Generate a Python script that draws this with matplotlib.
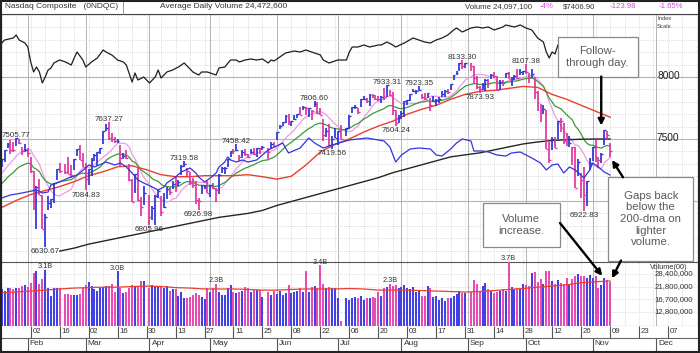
import numpy as np
import pandas as pd
import matplotlib
matplotlib.use("Agg")
import matplotlib.pyplot as plt
from matplotlib.patches import Rectangle
import matplotlib.transforms as mtransforms
from matplotlib.ticker import NullLocator

plt.rcParams['font.family'] = ['Liberation Sans', 'DejaVu Sans']

# ---------------------------------------------------------------- data
holidays = ['2018-02-19', '2018-03-30', '2018-05-28', '2018-07-04', '2018-09-03']

# closes before the first bar (used by the moving averages)
prior_close = [6963.85, 6960.96, 6965.36, 6959.96, 6936.25, 6939.34, 6950.16, 6903.39,
               7006.90, 7065.53, 7077.91, 7136.56, 7157.39, 7163.58, 7153.57, 7211.78,
               7261.06, 7223.69, 7298.28, 7296.05]

close = [
    7336.38,
    7408.03, 7460.29, 7415.06, 7411.16, 7505.77,
    7466.51, 7402.48, 7411.48, 7385.86, 7240.95,
    6967.53, 7115.88, 7051.98, 6777.16, 6874.49,
    6981.96, 7013.51, 7143.62, 7256.43, 7239.47,
    7234.31, 7218.23, 7210.09, 7337.39,
    7421.46, 7330.35, 7273.01, 7180.56, 7257.87,
    7330.70, 7372.01, 7396.65, 7427.95, 7560.81,
    7588.32, 7511.01, 7496.81, 7481.74, 7481.99,
    7344.24, 7364.30, 7345.29, 7166.68, 6992.67,
    7220.54, 7008.81, 6949.23, 7063.45,
    6870.12, 6941.28, 7042.11, 7076.55, 6915.11,
    6950.34, 7094.30, 7069.03, 7140.25, 7106.65,
    7156.28, 7281.10, 7295.24, 7238.06, 7146.13,
    7128.60, 7007.35, 7003.74, 7118.68, 7119.80,
    7066.27, 7130.70, 7100.90, 7088.15, 7209.62,
    7265.21, 7266.90, 7339.91, 7404.98, 7402.88,
    7411.32, 7351.63, 7398.30, 7382.47, 7354.34,
    7394.04, 7378.46, 7425.96, 7424.43, 7433.85,
    7396.59, 7462.45, 7442.12, 7554.33,
    7606.46, 7637.86, 7689.24, 7635.07, 7645.51,
    7659.93, 7703.79, 7695.70, 7761.04, 7746.38,
    7747.02, 7725.59, 7781.51, 7712.95, 7692.82,
    7532.01, 7561.63, 7445.08, 7503.68, 7510.30,
    7567.69, 7502.67, 7586.43, 7688.39,
    7756.20, 7759.20, 7716.61, 7823.92, 7825.98,
    7805.72, 7855.12, 7854.44, 7825.30, 7820.20,
    7841.87, 7840.78, 7932.24, 7852.18, 7737.42,
    7630.00, 7671.79, 7707.29, 7802.69, 7812.01,
    7859.68, 7883.66, 7888.33, 7891.78, 7839.11,
    7819.71, 7870.89, 7774.12, 7806.52, 7816.33,
    7821.01, 7859.17, 7889.10, 7878.46, 7945.98,
    8017.90, 8030.04, 8109.54, 8088.36, 8109.69,
    8091.25, 7995.17, 7922.73, 7902.54,
    7924.16, 7972.47, 7954.23, 8013.71, 8010.04,
    7895.79, 7956.11, 7950.04, 8028.23, 7986.96,
    7993.25, 8007.47, 7990.37, 8041.97, 8046.35,
    8037.30, 7999.55, 8025.09, 7879.51, 7788.45,
    7735.95, 7738.02, 7422.05, 7329.06, 7496.89,
    7430.74, 7645.49, 7642.70, 7485.14, 7449.03,
    7468.63, 7437.54, 7108.40, 7318.34, 7167.21,
    7050.29, 7161.65, 7305.90, 7434.06, 7356.99,
    7328.85, 7375.96, 7570.75, 7530.88, 7406.90,
]

high = [
    7338,
    7409, 7467, 7490, 7472, 7505.77,
    7500, 7432, 7459, 7430, 7353,
    7244, 7120, 7175, 7051, 6897,
    7040, 7017, 7149, 7257, 7305,
    7300, 7353, 7292, 7338,
    7422, 7451, 7386, 7306, 7262,
    7350, 7377, 7397, 7428, 7561,
    7620, 7637.27, 7550, 7520, 7503,
    7448, 7385, 7412, 7300, 7181,
    7221, 7265, 7032, 7122,
    7047, 6963, 7048, 7100, 7038,
    7068, 7112, 7111, 7158, 7191,
    7166, 7290, 7319.58, 7265, 7236,
    7183, 7162, 7027, 7126, 7132,
    7162, 7131, 7148, 7106, 7216,
    7276, 7272, 7340, 7405, 7418,
    7458.42, 7374, 7409, 7417, 7380,
    7423, 7426, 7427, 7431, 7447,
    7429, 7475, 7478, 7558,
    7613, 7640, 7690, 7704, 7646,
    7690, 7704, 7754, 7768, 7755,
    7752, 7730, 7806.60, 7796, 7751,
    7662, 7591, 7621, 7521, 7587,
    7568, 7611, 7589, 7696,
    7757, 7771, 7750, 7826, 7844,
    7831, 7863, 7866, 7855, 7843,
    7843, 7908, 7933.31, 7897, 7881,
    7736, 7691, 7727, 7809, 7813,
    7860, 7905, 7894, 7923.35, 7865,
    7870, 7873, 7827, 7846, 7825,
    7835, 7890, 7893, 7901, 7947,
    8019, 8050, 8110, 8133.30, 8114,
    8110, 8087, 8004, 7931,
    7950, 7980, 7981, 8024, 8037,
    8006, 7972, 7973, 8033, 8043,
    8001, 8016, 8061, 8061, 8049,
    8107.38, 8035, 8064, 8003, 7886,
    7783, 7771, 7737, 7479, 7520,
    7519, 7646, 7667, 7631, 7545,
    7525, 7438, 7434, 7335, 7229,
    7274, 7162, 7345, 7436, 7491,
    7354, 7385, 7572, 7565, 7466,
]

low = [
    7274,
    7311, 7425, 7377, 7392, 7446,
    7457, 7368, 7397, 7352, 7226,
    6924, 6777, 7049, 6776, 6630.67,
    6926, 6941, 6981, 7166, 7225,
    7216, 7216, 7185, 7247,
    7359, 7330, 7272, 7084.83, 7130,
    7202, 7319, 7283, 7378, 7456,
    7563, 7491, 7477, 7465, 7470,
    7278, 7340, 7338, 7165, 6990,
    7064, 6998, 6880, 6970,
    6805.96, 6850, 6810, 7025, 6880,
    6940, 7015, 7050, 7100, 7075,
    7124, 7206, 7278, 7198, 7126,
    7105, 6975, 6926.98, 7057, 7095,
    7066, 7032, 7099, 6992, 7059,
    7223, 7221, 7278, 7358, 7381,
    7403, 7321, 7349, 7364, 7344,
    7381, 7369, 7355, 7377, 7409,
    7339, 7420, 7432, 7494,
    7578, 7604, 7627, 7612, 7604,
    7650, 7669, 7692, 7730, 7693,
    7676, 7654, 7758, 7698, 7690,
    7481, 7516, 7443, 7419.56, 7508,
    7449, 7496, 7523, 7578,
    7706, 7744, 7704, 7761, 7815,
    7792, 7767, 7828, 7815, 7809,
    7787, 7817, 7835, 7846, 7697,
    7604.24, 7626, 7665, 7674, 7771,
    7803, 7875, 7866, 7885, 7819,
    7817, 7827, 7723, 7795, 7767,
    7793, 7840, 7841, 7863, 7899,
    7975, 8020, 8047, 8067, 8070,
    8052, 7946, 7903, 7873.93,
    7895, 7890, 7913, 7985, 7989,
    7885, 7894, 7924, 7990, 7986,
    7926, 7973, 7984, 8013, 8013,
    8022, 7952, 7993, 7819, 7728,
    7637, 7701, 7421, 7303, 7413,
    7429, 7499, 7560, 7460, 7440,
    7435, 7292, 7103, 7200, 7023,
    6922.83, 6962, 7253, 7319, 7311,
    7267, 7303, 7449, 7502, 7355,
]

# daily volume, billions of shares
volume_b = [
    2.05,
    2.00, 2.10, 2.10, 2.05, 2.10,
    2.10, 2.20, 2.25, 2.15, 2.35,
    2.90, 3.05, 2.30, 2.55, 3.10,
    2.10, 1.80, 2.10, 2.10, 2.10,
    1.85, 1.85, 1.82, 1.82,
    1.82, 1.85, 2.10, 2.25, 2.40,
    2.20, 2.05, 2.00, 2.10, 2.15,
    2.20, 2.20, 2.30, 1.95, 3.00,
    2.10, 1.90, 1.95, 2.10, 2.25,
    2.20, 2.20, 2.45, 2.45,
    2.10, 2.25, 2.20, 2.15, 2.15,
    2.10, 2.20, 2.00, 2.05, 2.05,
    1.80, 1.95, 1.70, 1.72, 1.75,
    1.82, 1.90, 1.82, 1.75, 1.68,
    2.10, 1.95, 2.10, 2.30, 1.96,
    1.82, 1.82, 2.10, 2.24, 1.96,
    1.90, 1.96, 2.00, 2.17, 2.10,
    1.96, 2.03, 2.03, 2.03, 1.75,
    1.96, 1.82, 2.00, 1.85,
    2.00, 1.82, 1.90, 2.25, 1.90,
    1.95, 2.00, 2.10, 1.95, 3.00,
    1.96, 2.17, 2.20, 2.10, 3.40,
    2.30, 2.10, 2.17, 2.10, 2.10,
    1.70, 1.05, 1.70, 1.65,
    1.70, 1.75, 1.70, 1.80, 1.65,
    1.70, 1.70, 1.75, 1.70, 1.95,
    1.80, 2.10, 2.15, 2.32, 2.20,
    2.25, 2.10, 2.15, 2.25, 2.10,
    2.05, 2.15, 1.95, 2.00, 1.80,
    1.80, 2.20, 2.10, 1.75, 1.80,
    1.65, 1.72, 1.60, 1.70, 1.70,
    1.80, 1.85, 2.00, 1.90, 1.90,
    1.95, 2.50, 2.30, 2.00,
    2.20, 2.35, 2.05, 2.00, 1.90,
    1.95, 2.00, 2.05, 2.00, 3.70,
    2.15, 2.05, 2.10, 2.05, 2.30,
    2.25, 2.20, 2.90, 2.95, 2.40,
    2.55, 2.30, 3.00, 3.00, 2.45,
    2.30, 2.50, 2.35, 2.30, 2.60,
    2.30, 2.55, 2.75, 2.85, 2.75,
    2.75, 2.60, 2.80, 2.60, 2.70,
    2.10, 2.25, 2.62, 2.50, 2.41,
]

# weekly (Friday) readings of the 50-day line, Jan 19 .. Nov 9
ma50 = [6948, 7004, 7052, 7084, 7116, 7156, 7204, 7236, 7276, 7284, 7252,
        7212, 7196, 7196, 7204, 7204, 7204, 7212, 7196, 7176, 7200, 7290,
        7396, 7456, 7500, 7556, 7604, 7644, 7700, 7740, 7772, 7820, 7860,
        7884, 7892, 7908, 7924, 7916, 7860, 7820, 7772, 7724, 7676]
# weekly (Friday) readings of the 200-day line, Feb 16 .. Nov 9
ma200 = [6596, 6620, 6652, 6676, 6700, 6724, 6748, 6772, 6796, 6820, 6844,
         6868, 6884, 6900, 6924, 6964, 6996, 7028, 7060, 7092, 7124, 7156,
         7188, 7228, 7260, 7292, 7324, 7356, 7372, 7388, 7412, 7436, 7460,
         7476, 7488, 7494, 7498, 7500, 7500]
# weekly (Friday) readings of the 50-day average volume (billions), Jan 19 .. Nov 9
vol_avg_b = [1.90, 1.94, 1.98, 2.02, 2.07, 2.11, 2.13, 2.15, 2.15, 2.18, 2.20,
             2.18, 2.13, 2.11, 2.07, 2.07, 2.07, 2.05, 2.02, 2.02, 2.05, 2.07,
             2.07, 2.07, 2.09, 2.07, 2.02, 2.02, 2.02, 2.00, 1.98, 1.96, 1.94,
             1.96, 2.00, 2.05, 2.09, 2.15, 2.20, 2.26, 2.36, 2.41, 2.45]

# relative strength line (blue, own scale)
rs_dates = ["2018-01-19", "2018-01-24", "2018-01-30", "2018-02-06", "2018-02-08", "2018-02-12",
            "2018-02-13", "2018-02-16", "2018-02-21", "2018-02-26", "2018-03-01", "2018-03-02",
            "2018-03-06", "2018-03-12", "2018-03-15", "2018-03-19", "2018-03-21", "2018-03-23",
            "2018-03-27", "2018-03-29", "2018-04-03", "2018-04-05", "2018-04-09", "2018-04-10",
            "2018-04-13", "2018-04-17", "2018-04-20", "2018-04-24", "2018-04-25", "2018-04-27",
            "2018-05-01", "2018-05-03", "2018-05-04", "2018-05-08", "2018-05-09", "2018-05-10",
            "2018-05-14", "2018-05-16", "2018-05-18", "2018-05-23", "2018-05-29", "2018-06-05",
            "2018-06-07", "2018-06-13", "2018-06-18", "2018-06-20", "2018-06-25", "2018-06-28",
            "2018-07-06", "2018-07-16", "2018-07-24", "2018-07-26", "2018-07-30", "2018-08-01",
            "2018-08-06", "2018-08-09", "2018-08-15", "2018-08-17", "2018-08-21", "2018-08-24",
            "2018-08-28", "2018-08-30", "2018-09-04", "2018-09-05", "2018-09-10", "2018-09-12",
            "2018-09-17", "2018-09-20", "2018-09-24", "2018-09-27", "2018-10-01", "2018-10-03",
            "2018-10-08", "2018-10-10", "2018-10-12", "2018-10-16", "2018-10-18", "2018-10-22",
            "2018-10-24", "2018-10-29", "2018-10-31", "2018-11-01", "2018-11-05", "2018-11-07",
            "2018-11-09"]
rs_values = [864, 870, 874, 880, 874, 876,
             890, 896, 904, 910, 924, 930,
             926, 936, 930, 934, 926, 914,
             900, 894, 886, 880, 886, 894,
             906, 916, 924, 914, 906, 896,
             904, 914, 926, 936, 946, 940,
             936, 940, 936, 940, 960, 974,
             954, 964, 984, 974, 964, 970,
             980, 984, 978, 966, 936, 950,
             962, 964, 962, 950, 948, 962,
             974, 982, 978, 958, 958, 956,
             950, 948, 954, 956, 950, 944,
             934, 920, 930, 932, 914, 926,
             920, 904, 920, 934, 926, 916,
             910]

# market index line at the top (black, "Index Scale")
idx_dates = ["2018-01-19", "2018-01-22", "2018-01-25", "2018-01-26", "2018-01-29", "2018-01-31",
             "2018-02-01", "2018-02-02", "2018-02-05", "2018-02-06", "2018-02-07", "2018-02-08",
             "2018-02-09", "2018-02-12", "2018-02-13", "2018-02-14", "2018-02-16", "2018-02-20",
             "2018-02-22", "2018-02-23", "2018-02-26", "2018-02-28", "2018-03-01", "2018-03-05",
             "2018-03-07", "2018-03-09", "2018-03-12", "2018-03-14", "2018-03-16", "2018-03-20",
             "2018-03-21", "2018-03-23", "2018-03-26", "2018-03-27", "2018-03-29", "2018-04-02",
             "2018-04-04", "2018-04-05", "2018-04-06", "2018-04-10", "2018-04-12", "2018-04-16",
             "2018-04-18", "2018-04-23", "2018-04-25", "2018-04-26", "2018-04-30", "2018-05-03",
             "2018-05-04", "2018-05-08", "2018-05-10", "2018-05-14", "2018-05-15", "2018-05-17",
             "2018-05-21", "2018-05-23", "2018-05-25", "2018-05-29", "2018-05-30", "2018-05-31",
             "2018-06-04", "2018-06-06", "2018-06-11", "2018-06-13", "2018-06-15", "2018-06-19",
             "2018-06-22", "2018-06-25", "2018-06-27", "2018-07-02", "2018-07-05", "2018-07-06",
             "2018-07-09", "2018-07-11", "2018-07-13", "2018-07-17", "2018-07-20", "2018-07-23",
             "2018-07-25", "2018-07-27", "2018-07-30", "2018-08-02", "2018-08-07", "2018-08-09",
             "2018-08-13", "2018-08-15", "2018-08-17", "2018-08-21", "2018-08-23", "2018-08-27",
             "2018-08-28", "2018-08-30", "2018-09-04", "2018-09-06", "2018-09-10", "2018-09-12",
             "2018-09-14", "2018-09-19", "2018-09-20", "2018-09-25", "2018-09-27", "2018-10-01",
             "2018-10-03", "2018-10-04", "2018-10-05", "2018-10-09", "2018-10-10", "2018-10-11",
             "2018-10-12", "2018-10-15", "2018-10-16", "2018-10-18", "2018-10-22", "2018-10-24",
             "2018-10-26", "2018-10-29", "2018-10-31", "2018-11-02", "2018-11-05", "2018-11-07",
             "2018-11-08", "2018-11-09"]
idx_values = [2835, 2850, 2860, 2875, 2850, 2835,
              2815, 2740, 2690, 2715, 2690, 2635,
              2665, 2700, 2710, 2735, 2750, 2740,
              2725, 2760, 2790, 2750, 2715, 2740,
              2760, 2800, 2790, 2775, 2750, 2740,
              2725, 2640, 2685, 2650, 2665, 2635,
              2665, 2700, 2660, 2690, 2700, 2715,
              2735, 2690, 2675, 2690, 2690, 2675,
              2710, 2715, 2750, 2750, 2740, 2750,
              2755, 2750, 2755, 2735, 2750, 2745,
              2765, 2785, 2795, 2790, 2800, 2790,
              2775, 2750, 2735, 2750, 2750, 2790,
              2815, 2815, 2825, 2815, 2825, 2825,
              2840, 2825, 2815, 2835, 2860, 2850,
              2840, 2835, 2850, 2860, 2875, 2900,
              2910, 2890, 2910, 2915, 2910, 2915,
              2900, 2915, 2925, 2915, 2925, 2910,
              2900, 2880, 2860, 2840, 2790, 2760,
              2790, 2780, 2825, 2800, 2790, 2750,
              2760, 2740, 2775, 2790, 2790, 2820,
              2810, 2790]

# labelled highs / lows
hl_dates = ["2018-01-26", "2018-02-09", "2018-03-01", "2018-03-13", "2018-04-02", "2018-04-18",
            "2018-04-25", "2018-05-14", "2018-06-20", "2018-06-28", "2018-07-25", "2018-07-30",
            "2018-08-09", "2018-08-30", "2018-09-07", "2018-10-01", "2018-10-29"]
hl_values = [7505.77, 6630.67, 7084.83, 7637.27, 6805.96, 7319.58,
             6926.98, 7458.42, 7806.60, 7419.56, 7933.31, 7604.24,
             7923.35, 8133.30, 7873.93, 8107.38, 6922.83]
hl_kind = ["hi", "lo", "lo", "hi", "lo", "hi",
           "lo", "hi", "hi", "lo", "hi", "lo",
           "hi", "hi", "lo", "hi", "lo"]

# labelled volume peaks
vpk_dates = ["2018-02-09", "2018-03-16", "2018-05-03", "2018-06-22", "2018-07-26", "2018-09-21"]

price_grid_major = [7000, 7500, 8000]
price_tick_labels = [7500, 8000]          # 7000 sits behind the note box in the reference
vol_ticks = [12800000, 16700000, 21800000, 28400000]

# ---------------------------------------------------------------- style
BLUE, MAG = '#2b33d6', '#df359e'
VBLUE, VMAG = '#4242e4', '#e64cb4'
PINK, GREEN, RED = '#ee9be6', '#3a9a3a', '#e8402e'
RSBLUE = '#3434de'
GRID_D, GRID_S = '#cfcfcf', '#b4b4b4'

W, H = 700, 353
fig = plt.figure(figsize=(W / 100, H / 100), dpi=100)
fig.patch.set_facecolor('white')


def rect(top, bottom):
    return [0, 1 - bottom / H, 1, (bottom - top) / H]


P_TOP, P_BOT = 14, 262
V_TOP, V_BOT = 262, 325.7
D_TOP, D_BOT = 325.7, 351

ax = fig.add_axes(rect(P_TOP, P_BOT))
ax_ix = fig.add_axes(rect(P_TOP, P_BOT), sharex=ax, frameon=False)
ax_rs = fig.add_axes(rect(P_TOP, P_BOT), sharex=ax, frameon=False)
axv = fig.add_axes(rect(V_TOP, V_BOT), sharex=ax)
axd = fig.add_axes(rect(D_TOP, D_BOT), sharex=ax)
ov = fig.add_axes([0, 0, 1, 1], frameon=False)
ov.set_xlim(0, W)
ov.set_ylim(H, 0)
ov.axis('off')
ov.set_zorder(20)

start = np.datetime64('2018-01-19')


def wpos(d):
    return int(np.busday_count(start, np.datetime64(pd.Timestamp(d).date(), 'D')))


days = pd.bdate_range('2018-01-19', '2018-11-09')
days = days[~days.isin(pd.to_datetime(holidays))]
assert len(days) == len(close) == len(high) == len(low) == len(volume_b), \
    (len(days), len(close), len(high), len(low), len(volume_b))
pos = np.array([wpos(d) for d in days], dtype=float)
day_str = list(days.strftime('%Y-%m-%d'))
pos_of = dict(zip(day_str, pos))

ax.set_xlim(-0.6, 241.06)
ax.set_ylim(6508, 8508)
for a in (ax, axv, axd):
    a.tick_params(left=False, bottom=False, labelleft=False, labelbottom=False)
    a.yaxis.set_major_locator(NullLocator())
    a.yaxis.set_minor_locator(NullLocator())
    a.xaxis.set_major_locator(NullLocator())
    a.xaxis.set_minor_locator(NullLocator())
for s in ax.spines.values():
    s.set_visible(False)

# ---------------------------------------------------------------- grid
fridays = pd.date_range('2018-01-19', '2018-12-28', freq='W-FRI')
fri_pos = [wpos(d) for d in fridays]
month_starts = [np.busday_offset(f'2018-{m:02d}-01', 0, roll='forward') for m in range(2, 13)]
month_pos = [int(np.busday_count(start, m)) for m in month_starts]

for a in (ax, axv):
    for p in fri_pos:
        a.axvline(p, color=GRID_D, lw=0.6, ls=(0, (1, 1.5)), zorder=0)
    for p in month_pos:
        a.axvline(p, color=GRID_S, lw=0.7, zorder=0)
for p in range(6600, 8501, 100):
    if p in price_grid_major:
        ax.axhline(p, color=GRID_S, lw=0.8, zorder=0)
    else:
        ax.axhline(p, color=GRID_D, lw=0.6, ls=(0, (1, 1.5)), zorder=0)

# ---------------------------------------------------------------- price bars
c = np.array(close, float)
h = np.array(high, float)
l = np.array(low, float)
prev = np.r_[prior_close[-1], c[:-1]]
up = c >= prev
col = np.where(up, BLUE, MAG)
ax.vlines(pos, l, h, colors=col, lw=1.25, zorder=6)
ax.hlines(c, pos, pos + 0.65, colors=col, lw=1.0, zorder=6)

# moving averages
allc = pd.Series(prior_close + close, dtype=float)
n0 = len(prior_close)
ma10 = allc.rolling(10).mean().to_numpy()[n0:]
ema21 = allc.ewm(span=21, adjust=False).mean().to_numpy()[n0:]
ax.plot(pos, ma10, color=PINK, lw=0.9, zorder=4)
ax.plot(pos, ema21, color=GREEN, lw=0.9, zorder=4)
w50 = [wpos(d) for d in pd.date_range('2018-01-19', '2018-11-09', freq='W-FRI')]
ax.plot(w50, ma50, color=RED, lw=1.0, zorder=4)
w200 = [wpos(d) for d in pd.date_range('2018-02-16', '2018-11-09', freq='W-FRI')]
ax.plot(w200, ma200, color='#262626', lw=1.0, zorder=4)

# RS / index lines
ax_rs.plot([wpos(d) for d in rs_dates], rs_values, color=RSBLUE, lw=0.9)
ax_rs.set_ylim(736, 1232)
ax_rs.axis('off')
ax_ix.plot([wpos(d) for d in idx_dates], idx_values, color='#1e1e1e', lw=0.9)
ax_ix.set_ylim(1740, 2980)
ax_ix.axis('off')

# high / low labels
for d, v, k in zip(hl_dates, hl_values, hl_kind):
    dy = 1.8 if k == 'hi' else -3.4
    ax.annotate(f"{v:.2f}", xy=(pos_of[d], v), xytext=(0, dy), textcoords='offset points',
                ha='center', va='center', fontsize=5.8, color='#333333', zorder=7)

# right price labels
tp = mtransforms.offset_copy(mtransforms.blended_transform_factory(ax.transAxes, ax.transData),
                             fig=fig, y=1.2, units='dots')
for p in price_tick_labels:
    ax.text(657 / W, p, str(p), transform=tp, ha='left', va='center', fontsize=7.3,
            color='#222222', zorder=7)

# ---------------------------------------------------------------- volume
vv = np.array(volume_b) * 1e7
axv.set_yscale('log')
axv.yaxis.set_major_locator(NullLocator())
axv.yaxis.set_minor_locator(NullLocator())
axv.set_ylim(9.525e6, 36.6e6)
for v in vol_ticks:
    axv.axhline(v, color=GRID_D, lw=0.6, ls=(0, (1, 1.5)), zorder=0)
axv.vlines(pos, 1e6, vv, colors=np.where(up, VBLUE, VMAG), lw=1.45, zorder=4)
axv.plot(w50, np.array(vol_avg_b) * 1e7, color=RED, lw=0.9, zorder=5)
for d in vpk_dates:
    i = day_str.index(d)
    axv.annotate(f"{volume_b[i]:.1f}B", xy=(pos[i], vv[i]), xytext=(0, 2.4),
                 textcoords='offset points', ha='center', va='center', fontsize=5.3,
                 color='#333333', zorder=7, annotation_clip=False)
tv = mtransforms.blended_transform_factory(axv.transAxes, axv.transData)
for v in vol_ticks:
    axv.text(693 / W, v, f"{v:,}", transform=tv, ha='right', va='center',
             fontsize=5.6, color='#333333', zorder=7)
axv.text(688 / W, 0.91, "Volume(00)", transform=axv.transAxes, ha='right', va='center',
         fontsize=5.3, color='#333333', zorder=7)
for side in ('left', 'right'):
    axv.spines[side].set_visible(False)
for side in ('top', 'bottom'):
    axv.spines[side].set_color('#555555')
    axv.spines[side].set_linewidth(0.8)

# ---------------------------------------------------------------- date rows
axd.set_ylim(0, 2)
for s in axd.spines.values():
    s.set_visible(False)
axd.axhline(1.03, color='#666666', lw=0.8)
for d in pd.date_range('2018-02-02', '2018-12-14', freq='2W-FRI'):
    p = wpos(d)
    axd.vlines(p, 1.03, 2.0, color='#555555', lw=0.8)
    axd.text(p + 0.55, 1.52, d.strftime('%d'), ha='left', va='center', fontsize=5.6,
             color='#333333', clip_on=True)
for m, p in zip(month_starts, month_pos):
    axd.vlines(p, 0, 1.03, color='#555555', lw=0.8)
    axd.text(p + 0.7, 0.6, pd.Timestamp(m).strftime('%b'), ha='left', va='center',
             fontsize=6, color='#333333', clip_on=True)

# ---------------------------------------------------------------- header
ov.add_patch(Rectangle((0, 0), W, 13.5, fc='white', ec='#444444', lw=0.8, zorder=21))
ov.plot([123, 123], [0, 13.5], color='#888888', lw=0.6, zorder=22)
hk = dict(va='center', fontsize=6, color='#333333', zorder=22)
ov.text(5, 7, "Nasdaq Composite   (0NDQC)", ha='left', **hk)
ov.text(160, 7, "Average Daily Volume 24,472,600", ha='left', **hk)
hn = dict(va='center', fontsize=5.6, zorder=22,
          family=['Liberation Sans Narrow', 'Liberation Sans', 'DejaVu Sans'])
ov.text(532, 7, "Volume 24,097,100", ha='right', color='#333333', **hn)
ov.text(553, 7, "-4%", ha='right', color='#e040e0', **hn)
ov.text(595, 7, "$7406.90", ha='right', color='#333333', **hn)
ov.text(636, 7, "-123.98", ha='right', color='#e040e0', **hn)
ov.text(683, 7, "-1.65%", ha='right', color='#e040e0', **hn)
ov.text(657, 18.5, "Index", ha='left', va='center', fontsize=4.2, color='#444444', zorder=22)
ov.text(657, 27, "Scale", ha='left', va='center', fontsize=4.2, color='#444444', zorder=22)

# ---------------------------------------------------------------- annotations


def to_ov(a, x, y):
    return ov.transData.inverted().transform(a.transData.transform((x, y)))


def box(x0, y0, x1, y1, text):
    ov.add_patch(Rectangle((x0, y0), x1 - x0, y1 - y0, fc='white', ec='#8a8a8a',
                           lw=0.9, zorder=23))
    ov.text((x0 + x1) / 2, (y0 + y1) / 2, text, ha='center', va='center', fontsize=8.2,
            color='#5a5a5a', linespacing=1.2, zorder=24)


def arrow(start_xy, tip_xy):
    ov.annotate('', xy=tip_xy, xytext=start_xy,
                arrowprops=dict(arrowstyle='-|>', color='black', lw=1.7,
                                mutation_scale=9, shrinkA=0, shrinkB=0), zorder=25)


i7 = day_str.index('2018-11-07')
i9 = day_str.index('2018-11-09')

box(558, 37.3, 637.5, 76.5, "Follow-\nthrough day.")
box(483, 203.3, 560, 246.7, "Volume\nincrease.")
box(608.3, 177.3, 693.3, 260.5, "Gaps back\nbelow the\n200-dma on\nlighter\nvolume.")

tx, ty = to_ov(ax, pos[i7], h[i7])
arrow((tx - 3, 76.5), (tx - 3, ty - 4.5))
tx, ty = to_ov(axv, pos[i7], vv[i7])
arrow((560, 223), (tx - 2, ty - 2))
tx, ty = to_ov(ax, pos[i9], l[i9])
arrow((623, 177.3), (tx + 2, ty + 3))
tx, ty = to_ov(axv, pos[i9], vv[i9])
arrow((621, 260.5), (tx + 2, ty - 3.5))

# outer frame
ov.add_patch(Rectangle((0.75, 0.75), W - 1.5, H - 1.5, fill=False, ec='#222222', lw=1.5,
                       zorder=30))

fig.savefig('out.png', dpi=100)
